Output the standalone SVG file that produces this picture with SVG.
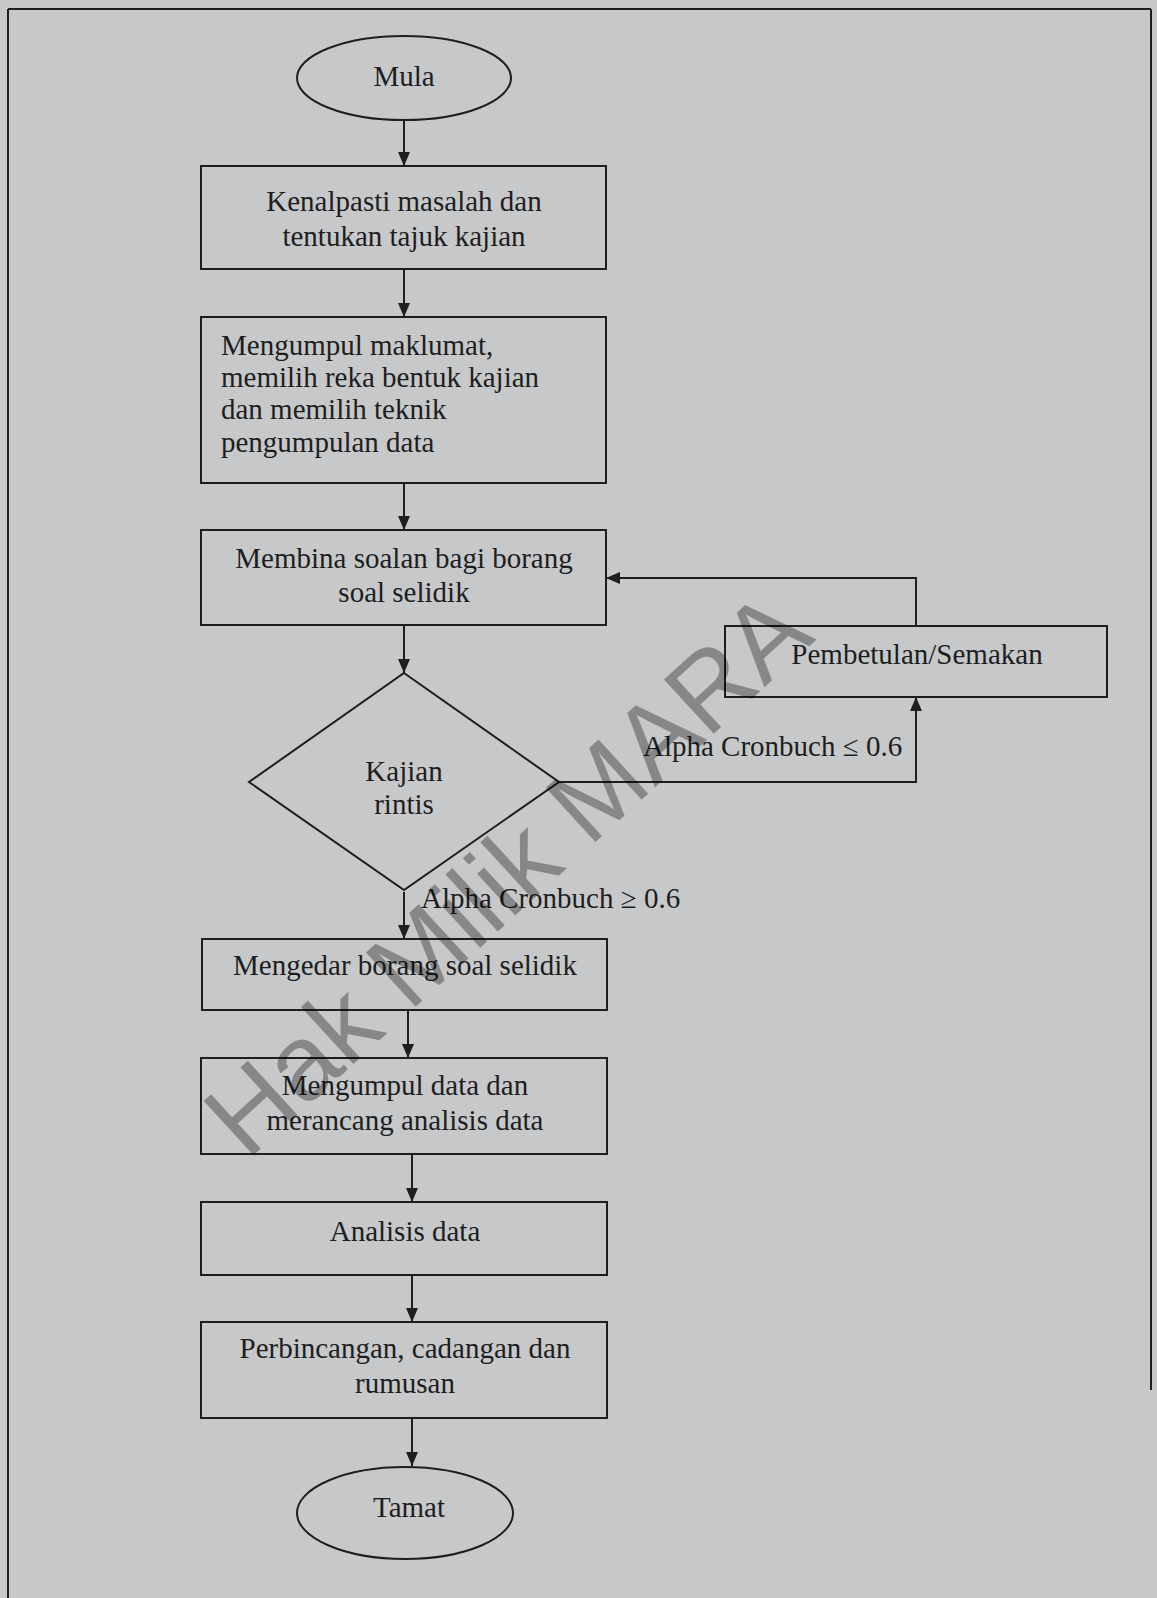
<svg xmlns="http://www.w3.org/2000/svg" width="1157" height="1598" viewBox="0 0 1157 1598">
<style>
.bg{fill:#c6c8ca}
.shape{fill:none;stroke:#1e1e1e;stroke-width:2}
.conn{fill:none;stroke:#1e1e1e;stroke-width:2}
.t{font-family:"Liberation Serif","Times New Roman",serif;font-size:29px;fill:#1e1e1e}
.c{text-anchor:middle}
.wm{font-family:"Liberation Sans",Arial,sans-serif;font-size:107px;fill:#000000;fill-opacity:0.32;text-anchor:middle;dominant-baseline:central}
</style>
<defs>
<marker id="ah" markerUnits="userSpaceOnUse" markerWidth="14" markerHeight="14" viewBox="0 0 14 14" refX="14" refY="7" orient="auto">
<path d="M0,1 L14,7 L0,13 Z" fill="#1e1e1e"/>
</marker>
</defs>
<rect class="bg" x="0" y="0" width="1157" height="1598"/>
<g id="frame" class="shape">
<line x1="8" y1="9" x2="1151" y2="9"/>
<line x1="8" y1="9" x2="8" y2="1598"/>
<line x1="1151" y1="9" x2="1151" y2="1390"/>
</g>
<g id="connectors" class="conn">
<line x1="404" y1="120" x2="404" y2="166" marker-end="url(#ah)"/>
<line x1="404" y1="269" x2="404" y2="317" marker-end="url(#ah)"/>
<line x1="404" y1="483" x2="404" y2="530" marker-end="url(#ah)"/>
<line x1="404" y1="625" x2="404" y2="673" marker-end="url(#ah)"/>
<line x1="404" y1="892" x2="404" y2="939" marker-end="url(#ah)"/>
<line x1="408" y1="1010" x2="408" y2="1058" marker-end="url(#ah)"/>
<line x1="412" y1="1154" x2="412" y2="1202" marker-end="url(#ah)"/>
<line x1="412" y1="1275" x2="412" y2="1322" marker-end="url(#ah)"/>
<line x1="412" y1="1418" x2="412" y2="1466" marker-end="url(#ah)"/>
<polyline points="559,782 916,782 916,697" marker-end="url(#ah)"/>
<polyline points="916,626 916,578 606,578" marker-end="url(#ah)"/>
</g>
<g id="label-le">
<text class="t" x="643" y="756">Alpha Cronbuch ≤ 0.6</text>
</g>
<g id="label-ge">
<text class="t" x="421" y="908">Alpha Cronbuch ≥ 0.6</text>
</g>
<g id="mula">
<ellipse class="shape" cx="404" cy="78" rx="107" ry="42"/>
<text class="t c" x="404" y="86">Mula</text>
</g>
<g id="kenalpasti">
<rect class="shape" x="201" y="166" width="405" height="103"/>
<text class="t c" x="404" y="211">Kenalpasti masalah dan</text>
<text class="t c" x="404" y="246">tentukan tajuk kajian</text>
</g>
<g id="mengumpul-maklumat">
<rect class="shape" x="201" y="317" width="405" height="166"/>
<text class="t" x="221" y="355">Mengumpul maklumat,</text>
<text class="t" x="221" y="387">memilih reka bentuk kajian</text>
<text class="t" x="221" y="419">dan memilih teknik</text>
<text class="t" x="221" y="452">pengumpulan data</text>
</g>
<g id="membina">
<rect class="shape" x="201" y="530" width="405" height="95"/>
<text class="t c" x="404" y="568">Membina soalan bagi borang</text>
<text class="t c" x="404" y="602">soal selidik</text>
</g>
<g id="pembetulan">
<rect class="shape" x="725" y="626" width="382" height="71"/>
<text class="t c" x="917" y="664">Pembetulan/Semakan</text>
</g>
<g id="kajian-rintis">
<polygon class="shape" points="404,673 559,782 404,890 249,782"/>
<text class="t c" x="404" y="781">Kajian</text>
<text class="t c" x="404" y="814">rintis</text>
</g>
<g id="mengedar">
<rect class="shape" x="202" y="939" width="405" height="71"/>
<text class="t c" x="405" y="975">Mengedar borang soal selidik</text>
</g>
<g id="mengumpul-data">
<rect class="shape" x="201" y="1058" width="406" height="96"/>
<text class="t c" x="405" y="1095">Mengumpul data dan</text>
<text class="t c" x="405" y="1130">merancang analisis data</text>
</g>
<g id="analisis">
<rect class="shape" x="201" y="1202" width="406" height="73"/>
<text class="t c" x="405" y="1241">Analisis data</text>
</g>
<g id="perbincangan">
<rect class="shape" x="201" y="1322" width="406" height="96"/>
<text class="t c" x="405" y="1358">Perbincangan, cadangan dan</text>
<text class="t c" x="405" y="1393">rumusan</text>
</g>
<g id="tamat">
<ellipse class="shape" cx="405" cy="1513" rx="108" ry="46"/>
<text class="t c" x="409" y="1517">Tamat</text>
</g>
<text class="wm" x="507" y="873" transform="rotate(-42.5 507 873)">Hak Milik MARA</text>
</svg>
